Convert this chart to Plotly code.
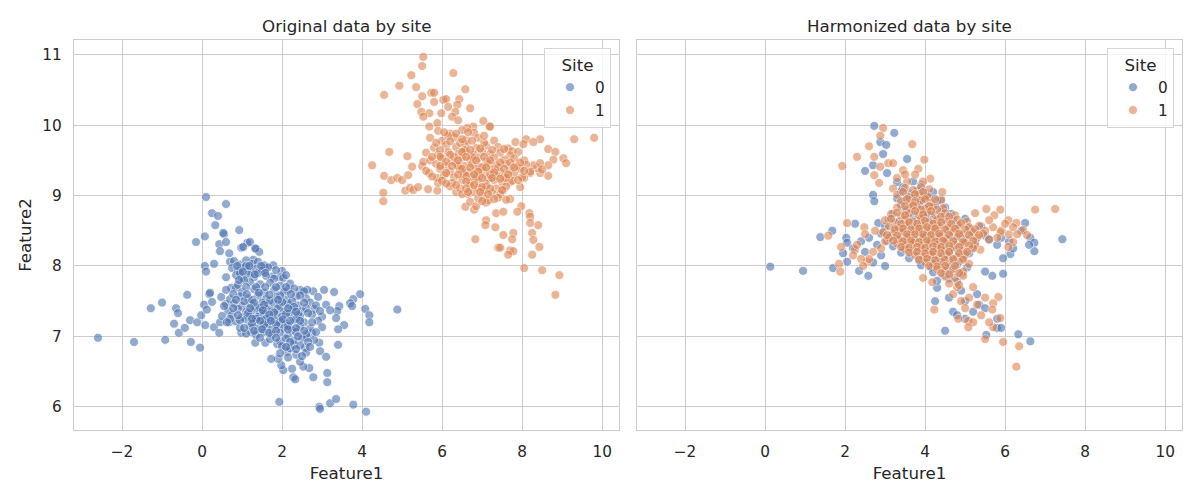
import plotly.graph_objects as go
from plotly.subplots import make_subplots

# ---------------- data ----------------
site_labels = ["0", "1"]
panel_titles = ["Original data by site", "Harmonized data by site"]
x_ticks = [-2, 0, 2, 4, 6, 8, 10]
y_ticks = [6, 7, 8, 9, 10, 11]

original_site0 = [
    (-2.6, 6.98), (-1.7, 6.92), (-0.92, 6.95), (-1.28, 7.40), (-1.0, 7.48), (-0.37, 7.59), (-0.65, 7.40),
    (-0.6, 7.33), (-0.7, 7.18), (-0.58, 7.05), (-0.43, 7.12), (-0.28, 6.92), (-0.05, 6.84), (-0.3, 7.23),
    (-0.12, 7.20), (-0.02, 7.30),
    (0.1, 8.98), (0.6, 8.88), (0.25, 8.75), (0.4, 8.71), (0.33, 8.58), (-0.15, 8.34), (0.07, 8.42), (0.55, 8.45),
    (0.43, 8.31), (0.45, 8.21), (0.6, 8.34), (0.93, 8.51), (0.98, 8.26), (1.13, 8.33), (0.68, 8.18), (0.07, 8.0),
    (0.1, 7.92), (0.3, 8.03), (0.18, 7.6), (0.05, 7.45), (0.12, 7.38), (0.25, 7.49), (0.48, 7.56), (0.6, 7.46),
    (0.08, 7.16), (0.3, 7.13), (0.45, 7.20), (0.43, 7.05), (0.68, 7.20), (0.98, 7.05), (1.23, 7.06), (0.6, 7.84),
    (0.73, 7.69), (0.85, 7.69), (0.53, 8.47), (1.03, 8.27), (1.2, 8.34), (1.35, 8.24), (1.43, 8.2), (0.7, 8.06),
    (0.2, 7.62),
    (3.95, 7.6), (3.78, 7.53), (3.7, 7.47), (3.75, 7.43), (4.08, 7.39), (4.18, 7.30), (4.18, 7.20), (4.88, 7.38),
    (3.55, 7.16), (3.4, 7.10), (3.4, 6.88), (3.43, 7.43), (3.38, 7.36), (3.3, 7.63), (3.05, 7.66), (2.78, 7.64),
    (2.93, 6.91), (2.95, 6.79), (3.1, 6.71), (3.13, 6.48), (3.13, 6.35), (2.78, 6.42), (2.68, 6.55), (2.53, 6.57),
    (2.45, 6.64), (2.28, 6.42), (2.33, 6.39), (2.25, 6.54), (2.03, 6.52), (1.98, 6.59), (1.9, 6.68), (1.73, 6.68),
    (2.13, 6.78), (1.93, 6.07), (2.93, 6.0), (2.95, 5.97), (3.2, 6.05), (3.35, 6.11), (3.78, 6.03), (4.1, 5.93),
    (1.33, 6.91), (1.58, 6.91), (1.88, 6.89), (2.3, 6.88), (2.58, 6.84), (2.75, 7.05), (2.63, 6.99),
    (1.33, 8.25), (1.78, 8.01), (2.0, 7.93), (1.95, 7.84), (1.58, 7.97), (1.28, 8.09), (2.03, 7.83), (1.75, 7.85),
    (2.45, 7.66), (2.63, 7.66), (2.15, 7.66),
    (0.8, 8.07), (0.95, 8.02), (1.1, 8.08), (1.25, 8.03), (1.4, 8.06), (1.55, 8.01),
    (0.75, 7.97), (0.9, 7.93), (1.05, 7.98), (1.2, 7.92), (1.35, 7.96), (1.5, 7.93), (1.65, 7.98), (1.85, 7.94),
    (0.85, 7.87), (1.0, 7.83), (1.15, 7.88), (1.3, 7.84), (1.6, 7.86), (1.8, 7.82), (2.1, 7.87),
    (0.9, 7.73), (1.2, 7.77), (1.45, 7.74), (1.7, 7.76), (1.95, 7.72), (2.2, 7.75),
    (0.6, 7.66), (1.0, 7.63), (1.3, 7.67), (1.55, 7.62), (1.8, 7.66), (2.05, 7.63), (2.3, 7.68), (2.55, 7.64),
    (0.7, 7.53), (0.95, 7.57), (1.15, 7.54), (1.4, 7.58), (1.6, 7.53), (1.85, 7.56), (2.1, 7.52), (2.35, 7.57),
    (2.6, 7.54), (2.9, 7.56),
    (0.8, 7.47), (1.0, 7.43), (1.2, 7.46), (1.35, 7.42), (1.5, 7.48), (1.65, 7.44), (1.8, 7.47), (1.95, 7.43),
    (2.15, 7.46), (2.4, 7.44), (2.7, 7.48), (3.1, 7.45),
    (0.65, 7.36), (0.9, 7.39), (1.1, 7.35), (1.3, 7.38), (1.45, 7.34), (1.6, 7.39), (1.75, 7.36), (1.9, 7.40),
    (2.05, 7.35), (2.25, 7.38), (2.5, 7.36), (2.8, 7.39), (3.2, 7.37),
    (0.5, 7.29), (0.75, 7.31), (1.0, 7.27), (1.2, 7.30), (1.4, 7.28), (1.55, 7.32), (1.7, 7.27), (1.85, 7.31),
    (2.0, 7.28), (2.2, 7.32), (2.45, 7.29), (2.75, 7.31), (3.0, 7.28), (3.35, 7.26),
    (0.85, 7.21), (1.1, 7.24), (1.3, 7.20), (1.5, 7.23), (1.65, 7.19), (1.8, 7.24), (1.95, 7.21), (2.1, 7.18),
    (2.3, 7.23), (2.55, 7.20), (2.9, 7.22),
    (0.95, 7.12), (1.2, 7.15), (1.4, 7.11), (1.6, 7.14), (1.75, 7.10), (1.9, 7.15), (2.05, 7.12), (2.25, 7.09),
    (2.45, 7.14), (2.7, 7.11), (3.0, 7.13),
    (1.1, 7.04), (1.35, 7.02), (1.55, 7.06), (1.75, 7.03), (1.95, 7.05), (2.15, 7.01), (2.35, 7.06), (2.6, 7.03),
    (1.7, 6.96), (1.95, 6.93), (2.1, 6.97), (2.3, 6.94), (2.5, 6.97), (2.8, 6.95),
    (2.0, 6.86), (2.2, 6.83), (2.45, 6.87), (1.95, 6.76), (2.35, 6.74), (2.6, 6.77),
    (1.05, 7.50), (1.25, 7.52), (1.45, 7.41), (1.7, 7.51), (2.0, 7.49), (2.25, 7.50), (1.15, 7.33), (1.35, 7.25),
    (1.6, 7.25), (1.8, 7.34), (2.1, 7.32), (2.35, 7.25), (1.25, 7.18), (1.55, 7.17), (1.85, 7.17), (2.15, 7.15),
    (2.4, 7.31), (2.6, 7.40), (0.55, 7.43), (0.7, 7.25), (0.95, 7.23), (1.05, 7.80), (1.4, 7.90), (1.1, 8.00),
    (0.95, 7.90),
    (0.88, 8.0), (1.18, 8.0), (1.48, 8.0), (1.02, 7.92), (1.32, 7.88), (1.58, 7.9), (0.92, 7.8), (1.1, 7.7),
    (1.35, 7.7), (1.58, 7.7), (1.85, 7.7), (2.1, 7.7), (0.78, 7.6), (1.12, 7.6), (1.42, 7.62), (1.68, 7.59),
    (1.95, 7.58), (2.22, 7.6), (2.45, 7.58), (0.85, 7.52), (1.3, 7.48), (1.55, 7.45), (1.9, 7.52), (2.3, 7.42),
    (2.55, 7.48), (2.85, 7.44), (0.78, 7.4), (1.2, 7.4), (1.52, 7.37), (1.68, 7.31), (2.15, 7.4), (2.35, 7.35),
    (2.65, 7.33), (2.95, 7.36), (0.62, 7.2), (0.9, 7.3), (1.25, 7.25), (1.45, 7.22), (1.72, 7.22), (2.02, 7.24),
    (2.2, 7.22), (2.45, 7.22), (2.75, 7.2), (1.05, 7.12), (1.3, 7.08), (1.5, 7.1), (1.68, 7.05), (1.85, 7.08),
    (2.15, 7.1), (2.35, 7.12), (2.55, 7.08), (2.85, 7.06), (1.45, 6.98), (1.85, 6.98), (2.2, 6.92), (2.4, 7.0),
    (2.65, 6.92), (2.1, 6.85), (2.35, 6.82), (2.7, 6.85), (2.15, 6.7), (2.5, 6.72),
]

original_site1 = [
    (5.53, 10.97), (5.5, 10.84), (5.23, 10.71), (6.28, 10.74), (4.93, 10.56), (5.35, 10.54), (4.55, 10.43),
    (5.73, 10.46), (5.8, 10.46), (5.5, 10.41), (6.58, 10.51), (5.38, 10.30), (5.8, 10.33), (6.03, 10.36),
    (6.1, 10.37), (6.43, 10.37), (6.38, 10.29), (6.15, 10.26), (6.7, 10.24), (5.48, 10.19), (5.68, 10.17),
    (5.98, 10.17), (5.53, 10.12), (6.33, 10.19), (6.25, 10.12), (6.4, 10.07), (7.03, 10.06), (7.18, 9.98),
    (5.68, 9.98), (5.88, 10.03), (6.78, 9.98), (6.63, 9.96),
    (4.68, 9.62), (5.13, 9.56), (4.25, 9.43), (4.55, 9.28), (4.73, 9.22), (4.88, 9.25), (5.0, 9.22), (5.15, 9.29),
    (5.25, 9.41), (5.5, 9.42), (5.53, 9.48), (4.53, 9.04), (4.53, 8.92), (5.08, 9.07), (5.2, 9.11), (5.28, 9.08),
    (5.4, 9.12), (5.65, 9.09), (5.88, 9.07), (5.9, 9.18), (5.68, 9.32), (5.88, 9.25),
    (6.35, 9.05), (6.65, 9.02), (6.58, 8.84), (6.7, 8.91), (6.8, 8.8), (6.85, 8.85), (7.1, 8.9), (7.1, 8.65),
    (7.08, 8.58), (7.33, 8.55), (7.35, 8.75), (7.4, 8.26), (6.83, 8.38),
    (7.2, 9.98), (7.83, 9.76), (8.1, 9.8), (8.45, 9.8), (9.3, 9.8), (9.8, 9.82), (8.28, 9.76), (8.03, 9.73),
    (7.65, 9.67), (7.75, 9.63), (7.9, 9.62), (8.65, 9.66), (8.83, 9.62), (9.03, 9.53), (9.1, 9.46), (8.78, 9.51),
    (8.65, 9.43), (8.65, 9.28), (8.45, 9.32), (8.38, 9.39), (8.2, 9.32), (8.28, 9.43), (8.45, 9.46), (8.05, 9.25),
    (7.95, 9.12), (7.7, 9.19), (7.53, 9.08), (7.7, 8.95), (7.98, 8.85), (7.88, 8.77), (8.18, 8.75), (8.2, 8.7),
    (8.4, 8.58), (8.2, 8.61), (8.25, 8.47), (8.28, 8.37), (8.43, 8.27), (8.25, 8.16), (7.78, 8.47), (7.75, 8.38),
    (7.7, 8.22), (7.78, 8.21), (7.65, 8.16), (7.53, 8.44), (7.45, 8.26), (7.53, 8.77), (8.05, 7.97), (8.5, 7.94),
    (8.93, 7.87), (8.83, 7.59),
    (5.9, 9.92), (6.2, 9.88), (6.5, 9.93), (6.8, 9.89),
    (5.7, 9.82), (6.0, 9.78), (6.3, 9.83), (6.6, 9.79), (6.9, 9.82), (7.3, 9.78),
    (5.8, 9.68), (6.1, 9.72), (6.35, 9.69), (6.6, 9.73), (6.85, 9.68), (7.1, 9.71), (7.4, 9.69),
    (5.6, 9.61), (5.9, 9.58), (6.15, 9.62), (6.4, 9.59), (6.6, 9.63), (6.8, 9.58), (7.0, 9.62), (7.2, 9.59),
    (7.45, 9.61), (7.7, 9.57),
    (5.7, 9.50), (6.0, 9.53), (6.25, 9.49), (6.5, 9.54), (6.7, 9.50), (6.9, 9.53), (7.1, 9.49), (7.3, 9.54),
    (7.55, 9.51), (7.8, 9.53), (8.05, 9.50),
    (5.85, 9.45), (6.1, 9.42), (6.35, 9.46), (6.55, 9.42), (6.75, 9.45), (6.95, 9.41), (7.15, 9.46), (7.35, 9.43),
    (7.6, 9.45), (7.85, 9.41), (8.1, 9.44),
    (5.6, 9.35), (5.95, 9.38), (6.2, 9.34), (6.45, 9.37), (6.65, 9.33), (6.85, 9.38), (7.05, 9.35), (7.25, 9.37),
    (7.45, 9.33), (7.7, 9.36), (7.95, 9.38), (8.2, 9.34), (8.5, 9.37),
    (5.75, 9.27), (6.05, 9.29), (6.3, 9.26), (6.55, 9.30), (6.75, 9.27), (6.95, 9.29), (7.15, 9.25), (7.35, 9.29),
    (7.55, 9.27), (7.8, 9.30), (8.0, 9.26),
    (6.0, 9.21), (6.25, 9.18), (6.5, 9.22), (6.7, 9.19), (6.9, 9.21), (7.1, 9.17), (7.3, 9.22), (7.5, 9.19),
    (7.75, 9.21),
    (6.2, 9.13), (6.45, 9.10), (6.7, 9.14), (6.9, 9.11), (7.1, 9.13), (7.35, 9.10), (7.6, 9.13),
    (6.5, 9.02), (6.8, 9.05), (7.0, 9.01), (7.25, 9.04), (7.45, 9.02),
    (6.9, 8.96), (7.15, 8.93), (7.4, 8.97), (7.6, 8.94),
    (6.3, 9.55), (6.55, 9.65), (6.75, 9.55), (7.0, 9.40), (7.2, 9.30), (6.6, 9.28), (6.85, 9.25), (7.4, 9.40),
    (6.4, 9.42), (6.15, 9.85), (6.45, 9.75), (7.05, 9.75), (5.95, 9.65), (7.6, 9.25), (7.05, 9.08),
    (6.05, 9.9), (6.35, 9.88), (6.65, 9.9), (5.85, 9.75), (6.2, 9.77), (6.5, 9.8), (6.75, 9.78), (7.05, 9.85),
    (5.95, 9.55), (6.2, 9.58), (6.5, 9.62), (6.7, 9.65), (6.95, 9.67), (7.25, 9.65), (7.55, 9.66), (5.75, 9.55),
    (6.1, 9.48), (6.4, 9.5), (6.6, 9.55), (6.85, 9.5), (7.05, 9.55), (7.2, 9.5), (7.45, 9.47), (7.7, 9.47),
    (7.95, 9.47), (5.95, 9.42), (6.25, 9.42), (6.5, 9.38), (6.7, 9.4), (6.9, 9.34), (7.1, 9.4), (7.3, 9.33),
    (7.55, 9.38), (7.8, 9.4), (8.05, 9.35), (6.1, 9.32), (6.4, 9.3), (6.6, 9.2), (6.8, 9.3), (7.0, 9.25),
    (7.25, 9.25), (7.45, 9.24), (7.65, 9.3), (7.9, 9.22), (6.1, 9.17), (6.35, 9.15), (6.6, 9.1), (6.8, 9.15),
    (7.0, 9.12), (7.2, 9.1), (7.5, 9.08), (6.65, 9.05), (6.95, 9.05), (7.15, 9.02), (7.3, 8.95), (7.0, 8.92),
]

harmonized_site0 = [
    (2.73, 9.99), (3.23, 9.89), (2.88, 9.76), (3.03, 9.72), (2.95, 9.59), (3.55, 9.52), (2.5, 9.35), (2.7, 9.43),
    (3.05, 9.32), (3.3, 9.19), (2.7, 9.01), (2.73, 8.92), (2.25, 8.6), (1.68, 8.5), (1.38, 8.41), (2.03, 8.4),
    (2.05, 8.33), (1.95, 8.18), (2.05, 8.06), (0.13, 7.99), (0.95, 7.93), (1.7, 7.97), (2.35, 7.93), (2.58, 7.86),
    (2.83, 8.61), (4.3, 7.69),
    (6.5, 8.61), (6.63, 8.4), (6.73, 8.33), (6.73, 8.21), (7.43, 8.38), (6.13, 8.17), (5.95, 8.11), (5.95, 7.89),
    (5.68, 7.86), (5.5, 7.92), (5.35, 7.45), (4.5, 7.08), (5.8, 7.12), (5.9, 7.12), (6.33, 7.03), (6.63, 6.93),
    (5.53, 7.02),
    (2.4, 8.35), (2.6, 8.4), (2.8, 8.3), (2.5, 8.2), (2.9, 8.15), (2.7, 8.05), (2.2, 8.25), (3.0, 8.0),
    (5.9, 8.4), (6.1, 8.35), (6.4, 8.5), (6.6, 8.3), (5.8, 8.3), (6.2, 8.25),
    (4.6, 7.55), (4.9, 7.65), (5.2, 7.35), (5.5, 7.4), (5.8, 7.25), (5.0, 7.5), (4.7, 7.35), (5.3, 7.6),
    (3.45, 9.12), (3.7, 9.2), (3.9, 9.15), (4.2, 9.05), (4.4, 8.95), (4.25, 7.5), (4.8, 7.3), (5.0, 7.25),
    (3.4, 9.06), (3.6, 9.03), (3.8, 9.07), (4.0, 9.04),
    (3.3, 8.96), (3.5, 8.93), (3.7, 8.97), (3.9, 8.94), (4.1, 8.98), (4.3, 8.93),
    (3.4, 8.86), (3.65, 8.83), (3.85, 8.87), (4.05, 8.84), (4.25, 8.86), (4.5, 8.83),
    (3.2, 8.74), (3.5, 8.77), (3.75, 8.73), (3.95, 8.76), (4.15, 8.72), (4.4, 8.77), (4.65, 8.74),
    (3.1, 8.66), (3.35, 8.63), (3.6, 8.67), (3.8, 8.64), (4.0, 8.68), (4.2, 8.63), (4.45, 8.66), (4.7, 8.64),
    (5.0, 8.67),
    (3.0, 8.56), (3.25, 8.53), (3.5, 8.57), (3.7, 8.54), (3.9, 8.58), (4.1, 8.53), (4.3, 8.56), (4.55, 8.54),
    (4.8, 8.57), (5.1, 8.53), (5.4, 8.56),
    (2.9, 8.46), (3.15, 8.43), (3.4, 8.47), (3.6, 8.44), (3.8, 8.48), (4.0, 8.43), (4.2, 8.46), (4.4, 8.42),
    (4.6, 8.47), (4.85, 8.44), (5.15, 8.46), (5.5, 8.43),
    (3.05, 8.36), (3.3, 8.38), (3.5, 8.35), (3.7, 8.39), (3.9, 8.35), (4.1, 8.38), (4.3, 8.34), (4.5, 8.39),
    (4.7, 8.36), (4.95, 8.38), (5.25, 8.35), (5.6, 8.37),
    (3.2, 8.28), (3.45, 8.26), (3.65, 8.30), (3.85, 8.27), (4.05, 8.29), (4.25, 8.25), (4.45, 8.29), (4.65, 8.26),
    (4.9, 8.30), (5.2, 8.27),
    (3.4, 8.19), (3.6, 8.22), (3.8, 8.18), (4.0, 8.21), (4.2, 8.17), (4.4, 8.22), (4.6, 8.19), (4.85, 8.21),
    (5.1, 8.18),
    (3.6, 8.11), (3.85, 8.08), (4.05, 8.12), (4.25, 8.09), (4.45, 8.11), (4.7, 8.08), (4.95, 8.12),
    (3.9, 8.01), (4.15, 7.98), (4.35, 8.02), (4.55, 7.99), (4.8, 8.02), (5.05, 7.98),
    (4.2, 7.91), (4.45, 7.88), (4.65, 7.92), (4.9, 7.89), (4.3, 7.79), (4.6, 7.82), (4.8, 7.78),
]

harmonized_site1 = [
    (2.95, 9.96), (2.88, 9.85), (2.6, 9.7), (3.68, 9.73), (2.3, 9.55), (2.73, 9.55), (3.98, 9.51), (1.93, 9.42),
    (2.88, 9.41), (3.08, 9.46), (3.2, 9.46), (3.45, 9.36), (2.73, 9.29), (2.85, 9.18), (3.83, 9.38), (2.05, 8.61),
    (2.48, 8.55), (1.58, 8.43), (1.9, 8.27), (1.85, 8.03), (1.88, 7.92), (2.55, 8.06), (2.25, 8.23), (4.23, 7.38),
    (3.95, 7.83), (4.18, 7.77),
    (4.13, 9.24), (4.43, 9.05), (5.25, 8.75), (5.53, 8.81), (5.88, 8.8), (5.73, 8.72), (6.08, 8.65), (6.28, 8.61),
    (6.75, 8.8), (7.25, 8.81), (6.45, 8.51), (6.55, 8.44), (6.2, 8.34), (6.08, 8.27), (5.88, 8.47), (5.38, 8.23),
    (4.83, 7.25), (5.08, 7.22), (5.2, 7.2), (5.08, 7.13), (5.7, 7.13), (5.88, 7.26), (5.5, 6.96), (5.95, 6.92),
    (6.35, 6.86), (6.28, 6.57), (5.83, 7.56), (5.7, 7.47), (5.68, 7.38),
    (2.3, 8.3), (2.5, 8.45), (2.7, 8.2), (2.6, 8.1), (2.9, 8.25), (2.4, 8.1), (2.75, 8.5), (3.0, 8.35), (2.2, 8.15),
    (2.45, 8.0),
    (5.7, 8.55), (5.9, 8.5), (6.1, 8.45), (5.8, 8.4), (6.0, 8.6), (6.2, 8.55), (5.6, 8.65), (5.5, 8.5), (6.3, 8.45),
    (4.7, 7.6), (4.9, 7.5), (5.1, 7.55), (5.3, 7.45), (5.0, 7.4), (5.4, 7.3), (5.6, 7.2), (5.5, 7.55), (4.8, 7.7),
    (5.2, 7.7),
    (3.3, 9.25), (3.55, 9.2), (3.75, 9.3), (3.95, 9.2), (3.2, 9.1), (3.5, 9.3),
    (3.5, 9.11), (3.7, 9.08), (3.9, 9.12), (4.1, 9.09),
    (3.3, 9.01), (3.6, 8.98), (3.85, 9.02), (4.05, 8.99),
    (3.4, 8.92), (3.65, 8.89), (3.9, 8.93), (4.15, 8.90), (4.4, 8.93),
    (3.3, 8.83), (3.55, 8.80), (3.8, 8.84), (4.0, 8.81), (4.2, 8.85), (4.45, 8.82),
    (3.15, 8.74), (3.4, 8.71), (3.6, 8.75), (3.85, 8.72), (4.05, 8.76), (4.25, 8.72), (4.5, 8.75), (4.75, 8.72),
    (3.0, 8.65), (3.25, 8.62), (3.5, 8.66), (3.7, 8.63), (3.9, 8.67), (4.1, 8.62), (4.3, 8.66), (4.55, 8.63),
    (4.8, 8.66), (5.05, 8.63),
    (3.1, 8.56), (3.35, 8.54), (3.55, 8.58), (3.75, 8.55), (3.95, 8.57), (4.15, 8.53), (4.35, 8.57), (4.6, 8.54),
    (4.85, 8.58), (5.1, 8.55), (5.35, 8.57),
    (2.95, 8.48), (3.2, 8.46), (3.45, 8.49), (3.65, 8.45), (3.85, 8.49), (4.05, 8.46), (4.25, 8.50), (4.45, 8.46),
    (4.7, 8.49), (4.95, 8.45), (5.2, 8.48), (5.45, 8.46),
    (3.1, 8.40), (3.35, 8.38), (3.55, 8.41), (3.75, 8.37), (3.95, 8.41), (4.15, 8.38), (4.35, 8.42), (4.55, 8.38),
    (4.8, 8.41), (5.05, 8.37), (5.3, 8.40), (5.6, 8.38),
    (3.3, 8.32), (3.5, 8.30), (3.7, 8.33), (3.9, 8.29), (4.1, 8.33), (4.3, 8.30), (4.5, 8.34), (4.75, 8.30),
    (5.0, 8.33), (5.25, 8.30),
    (3.5, 8.24), (3.7, 8.22), (3.9, 8.25), (4.1, 8.21), (4.3, 8.25), (4.5, 8.22), (4.7, 8.26), (4.95, 8.22),
    (5.2, 8.25),
    (3.75, 8.15), (3.95, 8.13), (4.15, 8.16), (4.35, 8.12), (4.55, 8.16), (4.8, 8.13), (5.0, 8.16),
    (4.0, 8.05), (4.2, 8.03), (4.4, 8.06), (4.6, 8.02), (4.85, 8.06), (5.1, 8.03),
    (4.3, 7.95), (4.5, 7.93), (4.7, 7.96), (4.95, 7.92), (4.5, 7.85), (4.75, 7.83), (4.95, 7.86),
    (4.6, 7.75), (4.85, 7.73),
    (3.45, 9.05), (3.75, 9.02), (3.95, 9.05), (3.55, 8.95), (3.75, 8.92), (4.0, 8.95), (4.25, 8.95), (3.5, 8.85),
    (3.7, 8.86), (3.9, 8.8), (4.1, 8.85), (4.3, 8.8), (3.3, 8.76), (3.5, 8.72), (3.75, 8.78), (3.95, 8.73),
    (4.15, 8.78), (4.4, 8.7), (4.6, 8.7), (3.15, 8.67), (3.4, 8.6), (3.6, 8.62), (3.8, 8.6), (4.0, 8.64),
    (4.2, 8.6), (4.4, 8.62), (4.65, 8.6), (4.9, 8.61), (3.25, 8.52), (3.45, 8.53), (3.65, 8.52), (3.85, 8.53),
    (4.05, 8.55), (4.25, 8.53), (4.5, 8.52), (4.75, 8.53), (5.0, 8.52), (5.25, 8.52), (3.05, 8.44), (3.3, 8.43),
    (3.55, 8.45), (3.75, 8.45), (3.95, 8.45), (4.15, 8.44), (4.35, 8.46), (4.6, 8.44), (4.85, 8.46), (5.1, 8.44),
    (5.35, 8.44), (3.2, 8.36), (3.45, 8.35), (3.65, 8.36), (3.85, 8.34), (4.05, 8.36), (4.25, 8.35), (4.45, 8.36),
    (4.7, 8.35), (4.95, 8.34), (5.2, 8.36), (3.4, 8.27), (3.6, 8.26), (3.8, 8.27), (4.0, 8.26), (4.2, 8.28),
    (4.4, 8.27), (4.6, 8.29), (4.85, 8.27), (5.1, 8.29), (3.6, 8.19), (3.8, 8.2), (4.0, 8.18), (4.2, 8.2),
    (4.4, 8.18), (4.6, 8.2), (4.85, 8.18), (5.05, 8.2), (3.85, 8.09), (4.05, 8.1), (4.25, 8.08), (4.5, 8.09),
    (4.7, 8.1), (4.95, 8.09), (4.1, 8.0), (4.3, 7.99), (4.5, 8.0), (4.75, 8.0), (4.4, 7.9), (4.6, 7.88),
    (4.85, 7.9),
]

# ---------------- styling ----------------
colors = ["#4C72B0", "#DD8452"]
text_color = "#262626"
grid_color = "#cccccc"
font_family = "DejaVu Sans"

fig = make_subplots(rows=1, cols=2, shared_yaxes=True, horizontal_spacing=18 / 1108,
                    subplot_titles=panel_titles)

panels = [(original_site0, original_site1), (harmonized_site0, harmonized_site1)]
for col, series in enumerate(panels, start=1):
    for k, pts in enumerate(series):
        fig.add_trace(go.Scatter(
            x=[p[0] for p in pts], y=[p[1] for p in pts],
            mode="markers", name=site_labels[k],
            marker=dict(size=9, color=colors[k], opacity=0.6,
                        line=dict(color="white", width=0.8)),
            legend="legend" if col == 1 else "legend2",
            showlegend=True,
        ), row=1, col=col)

axis_common = dict(
    showgrid=True, gridcolor=grid_color, gridwidth=1,
    showline=True, linecolor=grid_color, linewidth=1.25, mirror=True,
    zeroline=False, ticks="outside", ticklen=8, tickcolor="rgba(0,0,0,0)",
    tickfont=dict(family=font_family, size=15.3, color=text_color),
)
for col in (1, 2):
    fig.update_xaxes(range=[-3.2, 10.42], tickvals=x_ticks,
                     ticktext=[str(t).replace("-", "\u2212") for t in x_ticks],
                     title=dict(text="Feature1", standoff=6,
                                font=dict(family=font_family, size=16.7, color=text_color)),
                     row=1, col=col, **axis_common)
    fig.update_yaxes(range=[5.67, 11.21], tickvals=y_ticks, row=1, col=col, **axis_common)
fig.update_yaxes(title=dict(text="Feature2", standoff=6,
                            font=dict(family=font_family, size=16.7, color=text_color)), row=1, col=1)

for ann in fig.layout.annotations:
    ann.font = dict(family=font_family, size=16.7, color=text_color)
    ann.yshift = 2

legend_common = dict(
    title=dict(text="Site", side="top center",
               font=dict(family=font_family, size=16.7, color=text_color)),
    font=dict(family=font_family, size=15.3, color=text_color),
    bgcolor="rgba(255,255,255,0.8)", bordercolor="#d5d5d5", borderwidth=1,
    yanchor="top", y=1 - 8 / 390, xanchor="right", itemwidth=40,
)
fig.update_layout(
    width=1200, height=500,
    margin=dict(l=74, r=18, t=40, b=70),
    paper_bgcolor="white", plot_bgcolor="white",
    font=dict(family=font_family, color=text_color),
    legend=dict(x=(611 - 74) / 1108, **legend_common),
    legend2=dict(x=(1174 - 74) / 1108, **legend_common),
)

fig.write_html("out.html")
